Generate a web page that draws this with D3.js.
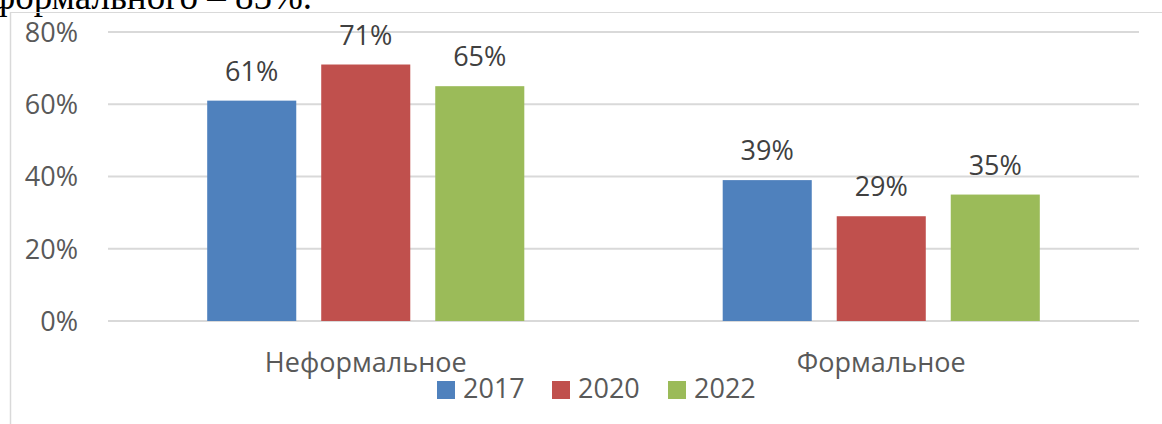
<!DOCTYPE html>
<html><head><meta charset="utf-8">
<script src="https://cdn.jsdelivr.net/npm/d3@7"></script>
<style>body{margin:0;background:#fff;}svg{display:block;}</style>
</head><body>
<svg id="c" width="1162" height="424"></svg>
<script>
const categories = ["Неформальное", "Формальное"];
const seriesNames = ["2017", "2020", "2022"];
const v2017 = [61, 39];
const v2020 = [71, 29];
const v2022 = [65, 35];
const tickValues = [0, 20, 40, 60, 80];
const colors = ["#4F81BD", "#C0504D", "#9BBB59"];
const headerText = "формального – 85%.";

const seriesValues = [v2017, v2020, v2022];
const svg = d3.select("#c");
const font = "'Open Sans', sans-serif";

// header text (cut off at the top like the reference)
svg.append("text").attr("x", 312).attr("y", 9).attr("text-anchor", "end")
  .attr("font-family", "'Liberation Serif', 'Times New Roman', serif")
  .attr("font-size", 37).attr("fill", "#000").text(headerText);

// chart frame
svg.append("line").attr("x1", 10).attr("x2", 1162).attr("y1", 12.5).attr("y2", 12.5)
  .attr("stroke", "#d9d9d9").attr("stroke-width", 1);
svg.append("line").attr("x1", 10.5).attr("x2", 10.5).attr("y1", 12).attr("y2", 424)
  .attr("stroke", "#d9d9d9").attr("stroke-width", 1.5);

const y = d3.scaleLinear().domain([0, 80]).range([321, 32]);
const x0 = d3.scaleBand().domain(categories).range([108, 1139]).padding(0);
const x1 = d3.scaleBand().domain(seriesNames).range([0, x0.bandwidth()])
  .paddingInner(0.219).paddingOuter(0.87);

// gridlines
svg.append("g").selectAll("line").data(tickValues).join("line")
  .attr("x1", 108).attr("x2", 1139)
  .attr("y1", d => y(d)).attr("y2", d => y(d))
  .attr("stroke", "#d9d9d9").attr("stroke-width", 2);

// y axis labels
const yAxis = d3.axisLeft(y).tickValues(tickValues).tickFormat(d => d + "%").tickSize(0).tickPadding(0);
const gy = svg.append("g").attr("transform", "translate(78,0)").call(yAxis);
gy.select(".domain").remove();
gy.selectAll("text").attr("font-family", font).attr("font-size", 27).attr("fill", "#595959")
  .attr("dy", "0.35em");

// bars
const groups = svg.append("g").selectAll("g").data(categories).join("g")
  .attr("transform", d => `translate(${x0(d)},0)`);
groups.selectAll("rect").data((c, ci) => seriesNames.map((s, si) => ({s, si, v: seriesValues[si][ci]})))
  .join("rect")
  .attr("x", d => x1(d.s)).attr("width", x1.bandwidth())
  .attr("y", d => y(d.v)).attr("height", d => y(0) - y(d.v))
  .attr("fill", d => colors[d.si]);
groups.selectAll("text").data((c, ci) => seriesNames.map((s, si) => ({s, si, v: seriesValues[si][ci]})))
  .join("text")
  .attr("x", d => x1(d.s) + x1.bandwidth() / 2).attr("y", d => y(d.v) - 20)
  .attr("text-anchor", "middle").attr("font-family", font).attr("font-size", 27)
  .attr("fill", "#404040").text(d => d.v + "%");

// category labels
const xAxis = d3.axisBottom(x0).tickSize(0).tickPadding(0);
const gx = svg.append("g").call(xAxis);
gx.select(".domain").remove();
gx.selectAll("text").attr("y", 372).attr("dy", 0).attr("font-family", font).attr("font-size", 27)
  .attr("fill", "#595959");

// legend
const legX = [437, 552, 668];
const leg = svg.append("g").selectAll("g").data(seriesNames).join("g")
  .attr("transform", (d, i) => `translate(${legX[i]},0)`);
leg.append("rect").attr("x", 0).attr("y", 381).attr("width", 18).attr("height", 18)
  .attr("fill", (d, i) => colors[i]);
leg.append("text").attr("x", 26).attr("y", 398).attr("font-family", font).attr("font-size", 27)
  .attr("fill", "#595959").text(d => d);
</script>
</body></html>
